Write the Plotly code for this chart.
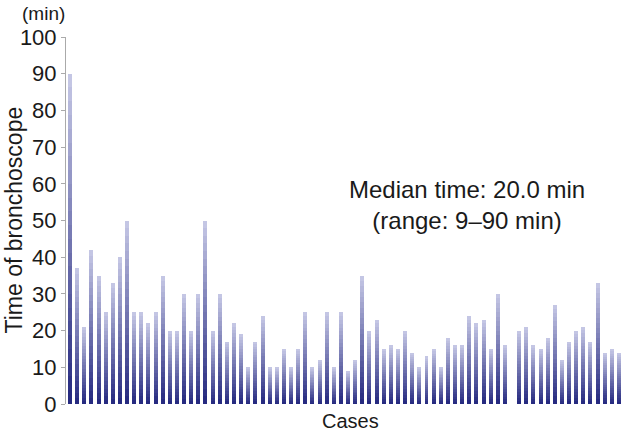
import plotly.graph_objects as go

# Bronchoscope time per case (minutes); None = missing case (gap)
cases = list(range(1, 79))
times = [90, 37, 21, 42, 35, 25, 33, 40, 50, 25, 25, 22, 25, 35, 20, 20, 30, 20, 30, 50, 20, 30,
         17, 22, 19, 10, 17, 24, 10, 10, 15, 10, 15, 25, 10, 12, 25, 10, 25, 9, 12, 35, 20, 23,
         15, 16, 15, 20, 14,
         10, 13, 15, 10, 18, 16, 16, 24, 22, 23, 15, 30, 16,
         None,
         20, 21, 16, 15, 18, 27, 12, 17, 20, 21, 17, 33, 14, 15, 14]
y_ticks = [0, 10, 20, 30, 40, 50, 60, 70, 80, 90, 100]

# vertical gradient: stacked slices from dark (bottom) to light (top)
n_slices = 24
c_bot = (38, 42, 128)
c_top = (196, 198, 228)

fig = go.Figure()
for k in range(n_slices):
    t = k / (n_slices - 1)
    col = "rgb(%d,%d,%d)" % tuple(round(c_bot[i] + (c_top[i] - c_bot[i]) * t) for i in range(3))
    fig.add_trace(go.Bar(
        x=cases,
        y=[(v / n_slices) if v is not None else None for v in times],
        marker=dict(color=col, line=dict(width=0)),
        hoverinfo="skip",
        showlegend=False,
    ))

font = "Liberation Sans, Arial, Helvetica, sans-serif"
fs = 22
fig.update_layout(
    width=628, height=432,
    margin=dict(l=66, r=3, t=37, b=28),
    paper_bgcolor="white", plot_bgcolor="white",
    barmode="stack", bargap=0.44,
    font=dict(family=font, size=fs, color="#1a1a1a"),
    xaxis=dict(range=[0.44, 78.84], showticklabels=False, showgrid=False,
               zeroline=False, showline=False, ticks=""),
    yaxis=dict(range=[0, 100], tickvals=y_ticks, showgrid=False, zeroline=False,
               showline=True, linecolor="#aaaaaa", linewidth=1,
               ticks="outside", ticklen=4, tickcolor="#aaaaaa",
               tickfont=dict(size=fs, family=font, color="#1a1a1a")),
    annotations=[
        dict(text="(min)", xref="paper", yref="paper", x=0, xshift=1, y=1.0, yshift=24,
             xanchor="right", yanchor="middle", showarrow=False, font=dict(size=19)),
        dict(text="Time of bronchoscope", xref="paper", yref="paper", x=0, xshift=-53,
             y=0.5, textangle=-90, xanchor="center", yanchor="middle",
             showarrow=False, font=dict(size=fs + 1)),
        dict(text="Cases", xref="paper", yref="paper", x=0.509, y=0, yshift=-17,
             xanchor="center", yanchor="middle", showarrow=False, font=dict(size=20)),
        dict(text="Median time: 20.0 min<br>(range: 9–90 min)", xref="paper", yref="paper",
             x=0.717, y=0.542, xanchor="center", yanchor="middle", showarrow=False,
             font=dict(size=24), align="center"),
    ],
)

fig.write_html("out.html", config={"displayModeBar": False},
               post_script="document.body.style.margin='0';")
